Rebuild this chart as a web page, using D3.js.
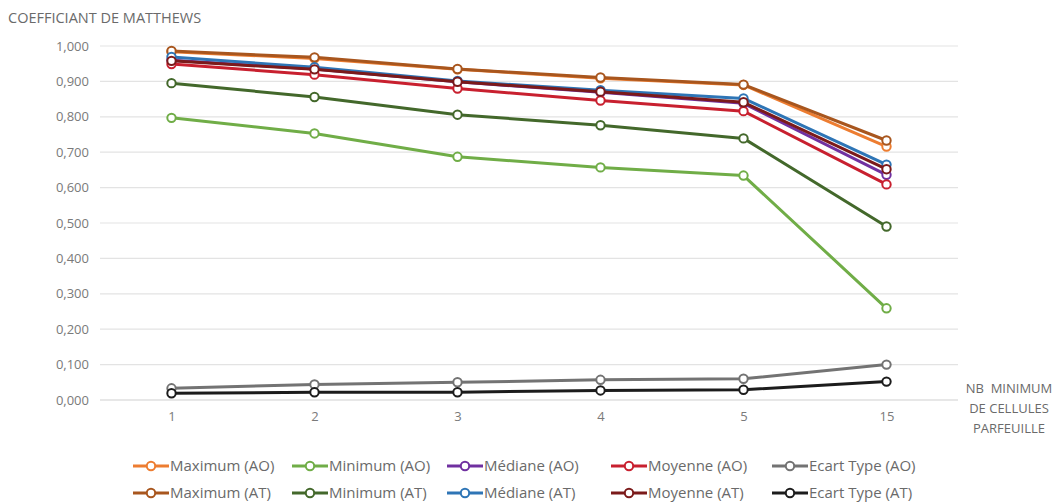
<!DOCTYPE html>
<html><head><meta charset="utf-8">
<script src="https://cdn.jsdelivr.net/npm/d3@7"></script>
<style>
html,body{margin:0;padding:0;background:#fff;}
svg{display:block;font-family:"Open Sans","Noto Sans",sans-serif;}
</style></head>
<body>
<svg id="chart" width="1061" height="502"></svg>
<script>
const categories = ["1","2","3","4","5","15"];
const yTicks = [0,0.1,0.2,0.3,0.4,0.5,0.6,0.7,0.8,0.9,1.0];
const seriesNames = ["Maximum (AO)","Minimum (AO)","Médiane (AO)","Moyenne (AO)","Ecart Type (AO)",
                     "Maximum (AT)","Minimum (AT)","Médiane (AT)","Moyenne (AT)","Ecart Type (AT)"];
const maxAO   = [0.984,0.965,0.934,0.909,0.890,0.716];
const minAO   = [0.797,0.753,0.687,0.657,0.634,0.259];
const medAO   = [0.960,0.935,0.899,0.869,0.838,0.636];
const moyAO   = [0.949,0.919,0.880,0.846,0.816,0.609];
const ecartAO = [0.033,0.044,0.050,0.057,0.060,0.100];
const maxAT   = [0.986,0.968,0.935,0.911,0.891,0.733];
const minAT   = [0.895,0.856,0.806,0.776,0.739,0.490];
const medAT   = [0.969,0.940,0.901,0.875,0.852,0.665];
const moyAT   = [0.958,0.934,0.899,0.871,0.841,0.652];
const ecartAT = [0.019,0.022,0.022,0.027,0.029,0.052];
const seriesValues = [maxAO,minAO,medAO,moyAO,ecartAO,maxAT,minAT,medAT,moyAT,ecartAT];
const colors = ["#ED7D31","#70AD47","#7030A0","#C8202F","#737373",
                "#A8561E","#43682B","#2E75B6","#7B1A1A","#1C1C1C"];

const svg = d3.select("#chart");
const x = d3.scalePoint().domain(categories).range([100,958]).padding(0.5);
const y = d3.scaleLinear().domain([0,1]).range([400,46]);
const fmt = v => d3.format(".3f")(v).replace(".", ",");

// grid
svg.append("g").selectAll("line").data(yTicks).join("line")
  .attr("x1",100).attr("x2",958)
  .attr("y1",d=>y(d)).attr("y2",d=>y(d))
  .attr("stroke",d=>d===0?"#d0d0d0":"#e3e3e3").attr("stroke-width",1.2);

// y labels
const yAxis = svg.append("g").attr("transform","translate(89,0)")
  .call(d3.axisLeft(y).tickValues(yTicks).tickFormat(fmt).tickSize(0).tickPadding(0));
yAxis.select(".domain").remove();
yAxis.selectAll("text").attr("fill","#7a7a7a").style("font-size","13px")
  .style("font-family","'Open Sans','Noto Sans',sans-serif");

// x labels
const xAxis = svg.append("g").attr("transform","translate(0,410)")
  .call(d3.axisBottom(x).tickSize(0).tickPadding(2));
xAxis.select(".domain").remove();
xAxis.selectAll("text").attr("fill","#7a7a7a").style("font-size","13px")
  .style("font-family","'Open Sans','Noto Sans',sans-serif");

// title
svg.append("text").attr("x",8).attr("y",23).text("COEFFICIANT DE MATTHEWS")
  .attr("fill","#6a6a6a").style("font-size","14.5px");

// x axis title
const xt = svg.append("text").attr("text-anchor","middle").attr("fill","#6a6a6a").style("font-size","13px");
["NB  MINIMUM","DE CELLULES","PARFEUILLE"].forEach((t,i)=>{
  xt.append("tspan").attr("x",1009).attr("y",393+i*20).text(t).attr("xml:space","preserve");
});

// series
const line = d3.line().x((d,i)=>x(categories[i])).y(d=>y(d));
seriesValues.forEach((vals,si)=>{
  const g = svg.append("g");
  g.append("path").attr("d",line(vals)).attr("fill","none")
    .attr("stroke",colors[si]).attr("stroke-width",3).attr("stroke-linejoin","round");
  g.selectAll("circle").data(vals).join("circle")
    .attr("cx",(d,i)=>x(categories[i])).attr("cy",d=>y(d)).attr("r",4.2)
    .attr("fill","#fff").attr("stroke",colors[si]).attr("stroke-width",2);
});

// legend
const colX = [133,292,447,611,772];
const rowY = [466,493];
seriesNames.forEach((name,si)=>{
  const cx = colX[si%5], cy = rowY[Math.floor(si/5)];
  const g = svg.append("g");
  g.append("line").attr("x1",cx).attr("x2",cx+36).attr("y1",cy).attr("y2",cy)
    .attr("stroke",colors[si]).attr("stroke-width",3);
  g.append("circle").attr("cx",cx+18).attr("cy",cy).attr("r",4.2)
    .attr("fill","#fff").attr("stroke",colors[si]).attr("stroke-width",2);
  g.append("text").attr("x",cx+37).attr("y",cy+5).text(name)
    .attr("fill","#6a6a6a").style("font-size","15px");
});
</script>
</body></html>
